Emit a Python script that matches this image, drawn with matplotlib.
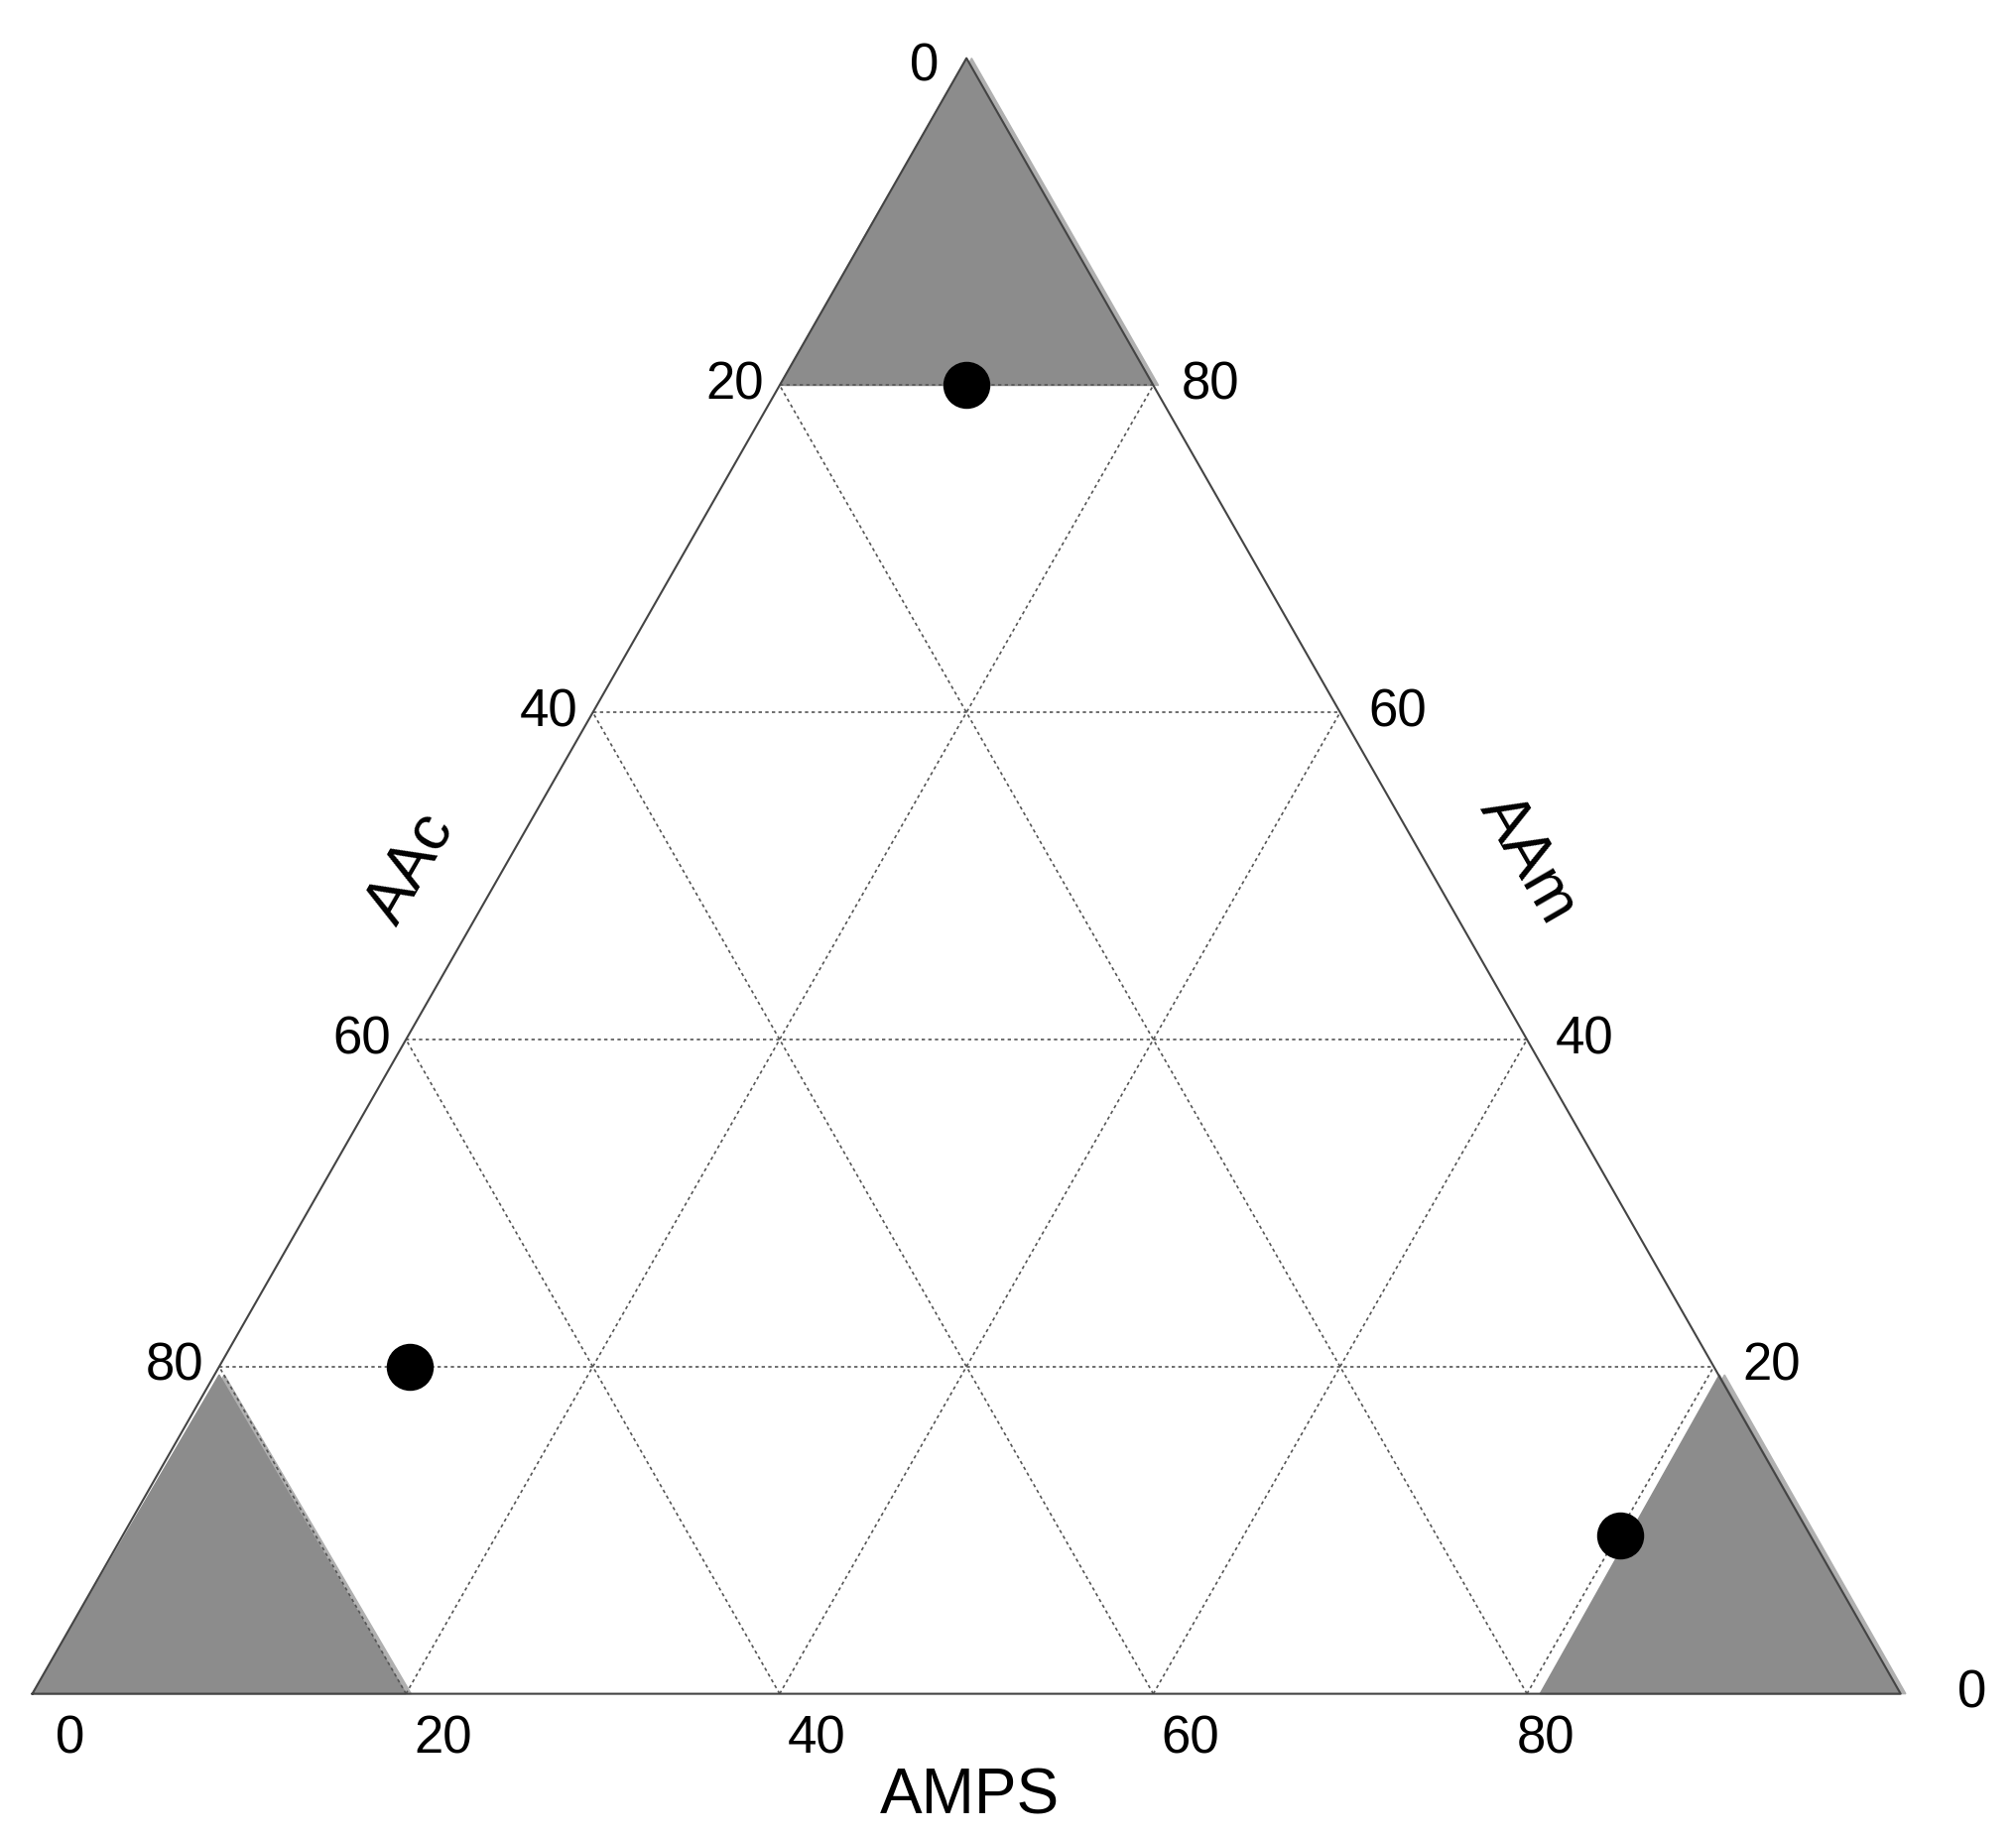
import numpy as np
import matplotlib.pyplot as plt

plt.rcParams['font.family'] = ['Liberation Sans', 'DejaVu Sans']

# triangle corners in display pixels (image scaled to 1560 x 1420)
x0, x1, ybase, ytop = 25, 1470, 1310, 45
W, H = x1 - x0, ybase - ytop

def to_xy(u, v):
    return x0 + W * np.asarray(u), ybase - H * np.asarray(v)

grid_levels = [0.2, 0.4, 0.6, 0.8]
left_labels = ["20", "40", "60", "80"]      # AAc, top to bottom
right_labels = ["80", "60", "40", "20"]     # AAm, top to bottom
bottom_labels = ["0", "20", "40", "60", "80"]
bottom_pos = [0.02, 0.22, 0.42, 0.62, 0.81]

# shaded regions (u, v) fractions
shade_top = ([0.5, 0.4, 0.6], [1.0, 0.8, 0.8])
shade_left = ([0.0, 0.2, 0.1], [0.0, 0.0, 0.195])
shade_right = ([0.807, 1.0, 0.903], [0.0, 0.0, 0.195])

pts_u = [0.5, 0.202, 0.850]
pts_v = [0.8, 0.2, 0.097]

fig = plt.figure(figsize=(20.33, 18.51), dpi=100)
ax = fig.add_axes([0, 0, 1, 1])
ax.set_xlim(0, 1560)
ax.set_ylim(1420, 0)
ax.axis("off")

for su, sv in [shade_top, shade_left, shade_right]:
    x, y = to_xy(su, sv)
    ax.fill(x + 4, y, color="#b0b0b0", zorder=1)
    ax.fill(x, y, color="#8c8c8c", zorder=2)

for g in grid_levels:
    x, y = to_xy([g / 2, 1 - g / 2], [g, g])
    ax.plot(x, y, ls=(0, (2, 2)), color="#555555", lw=1.2, zorder=3)
    x, y = to_xy([g, g + (1 - g) / 2], [0, 1 - g])
    ax.plot(x, y, ls=(0, (2, 2)), color="#555555", lw=1.2, zorder=3)
    x, y = to_xy([g, g / 2], [0, g])
    ax.plot(x, y, ls=(0, (2, 2)), color="#555555", lw=1.2, zorder=3)

x, y = to_xy([0, 1, 0.5, 0], [0, 0, 1, 0])
ax.plot(x, y, color="#444444", lw=1.5, zorder=4)

x, y = to_xy(pts_u, pts_v)
ax.scatter(x, y, s=1100, color="black", zorder=5)

fs = 38
for g, lab, rlab in zip([0.8, 0.6, 0.4, 0.2], left_labels, right_labels):
    xl, yl = to_xy(g / 2, g)
    ax.text(xl - 12, yl, lab, fontsize=fs, ha="right", va="center")
    xr, yr = to_xy(1 - g / 2, g)
    ax.text(xr + 22, yr, rlab, fontsize=fs, ha="left", va="center")
ax.text(715, 52, "0", fontsize=fs, ha="center", va="center")
ax.text(1525, 1310, "0", fontsize=fs, ha="center", va="center")
for p, lab in zip(bottom_pos, bottom_labels):
    xb, _ = to_xy(p, 0)
    ax.text(xb, 1345, lab, fontsize=fs, ha="center", va="center")

ax.text(750, 1390, "AMPS", fontsize=46, ha="center", va="center")
ax.text(318, 672, "AAc", fontsize=46, ha="center", va="center", rotation=60)
ax.text(1182, 665, "AAm", fontsize=46, ha="center", va="center", rotation=-60)

fig.savefig("out.png", dpi=100)
